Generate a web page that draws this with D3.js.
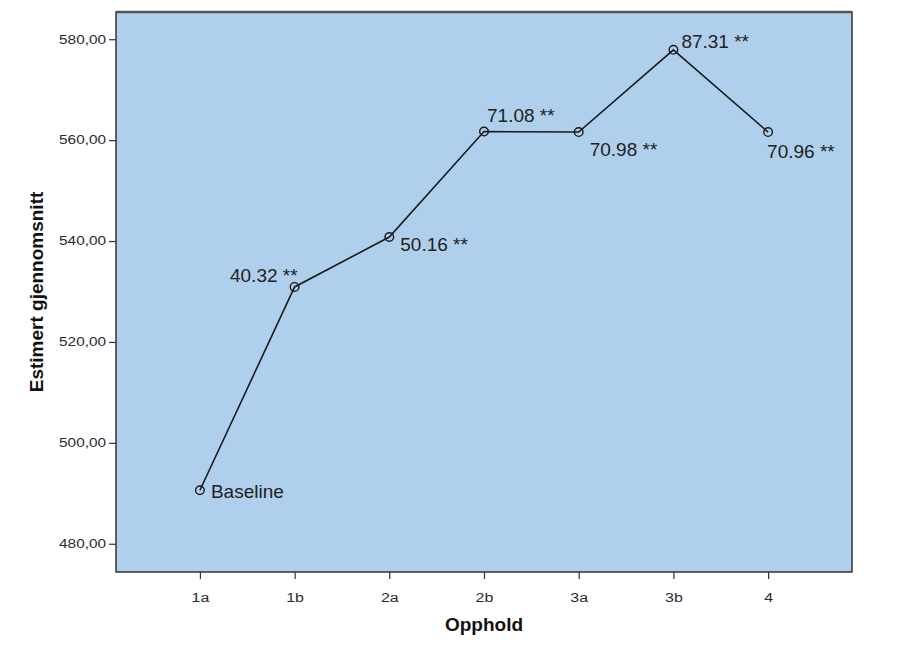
<!DOCTYPE html>
<html>
<head>
<meta charset="utf-8">
<script src="https://cdn.jsdelivr.net/npm/d3@7"></script>
<style>
  html, body { margin: 0; padding: 0; background: #ffffff; }
  svg { display: block; }
  text { font-family: "Liberation Sans", Arial, sans-serif; }
</style>
</head>
<body>
<svg id="chart" width="916" height="667"></svg>
<script>
// ---- data ----
const categories = ["1a", "1b", "2a", "2b", "3a", "3b", "4"];
const meanValues = [490.6, 530.9, 540.8, 561.7, 561.6, 577.9, 561.6];
const pointLabels = ["Baseline", "40.32 **", "50.16 **", "71.08 **", "70.98 **", "87.31 **", "70.96 **"];
const yTickValues = [480, 500, 520, 540, 560, 580];
const xAxisTitle = "Opphold";
const yAxisTitle = "Estimert gjennomsnitt";

// label placement (offsets from point, anchor)
const labelPlacement = [
  { dx: 11, dy: 8, anchor: "start" },
  { dx: 3, dy: -5, anchor: "end" },
  { dx: 11, dy: 14, anchor: "start" },
  { dx: 3, dy: -10, anchor: "start" },
  { dx: 11, dy: 24, anchor: "start" },
  { dx: 8, dy: -2, anchor: "start" },
  { dx: -1, dy: 26, anchor: "start" }
];

const svg = d3.select("#chart");
const plot = { left: 116, right: 852, top: 12, bottom: 572 };

const x = d3.scalePoint().domain(categories).range([plot.left, plot.right]).padding(0.886);
const y = d3.scaleLinear().domain([474.4, 585.4]).range([plot.bottom, plot.top]);

// background
svg.append("rect")
  .attr("x", plot.left).attr("y", plot.top)
  .attr("width", plot.right - plot.left).attr("height", plot.bottom - plot.top)
  .attr("fill", "#afcfec");

// y axis
const yAxis = svg.append("g")
  .attr("transform", `translate(${plot.left},0)`)
  .call(d3.axisLeft(y).tickValues(yTickValues).tickSize(7).tickPadding(3)
    .tickFormat(d => d3.format(".2f")(d).replace(".", ",")));
yAxis.select(".domain").remove();
yAxis.selectAll(".tick line").attr("stroke", "#333").attr("stroke-width", 1.2);
yAxis.selectAll(".tick text")
  .attr("fill", "#2a2a2a").attr("font-size", 12)
  .attr("x", -10 / 1.28)
  .attr("transform", "scale(1.28,1)");

// x axis
const xAxis = svg.append("g")
  .attr("transform", `translate(0,${plot.bottom})`)
  .call(d3.axisBottom(x).tickSize(7).tickPadding(14));
xAxis.select(".domain").remove();
xAxis.selectAll(".tick line").attr("stroke", "#333").attr("stroke-width", 1.2);
xAxis.selectAll(".tick text")
  .attr("fill", "#2a2a2a").attr("font-size", 12.5)
  .attr("transform", "scale(1.28,1)");

// frame
svg.append("rect")
  .attr("x", plot.left).attr("y", plot.top)
  .attr("width", plot.right - plot.left).attr("height", plot.bottom - plot.top)
  .attr("fill", "none").attr("stroke", "#333").attr("stroke-width", 1.5);
svg.append("line")
  .attr("x1", plot.left).attr("x2", plot.right)
  .attr("y1", plot.top).attr("y2", plot.top)
  .attr("stroke", "#555").attr("stroke-width", 2.5);

// line
const data = categories.map((c, i) => ({ c, v: meanValues[i], label: pointLabels[i], p: labelPlacement[i] }));
svg.append("path")
  .datum(data)
  .attr("fill", "none")
  .attr("stroke", "#1a1a1a")
  .attr("stroke-width", 1.6)
  .attr("d", d3.line().x(d => x(d.c)).y(d => y(d.v)));

// markers
svg.selectAll("circle.pt")
  .data(data)
  .enter().append("circle")
  .attr("class", "pt")
  .attr("cx", d => x(d.c)).attr("cy", d => y(d.v))
  .attr("r", 4.3)
  .attr("fill", "none")
  .attr("stroke", "#1a1a1a")
  .attr("stroke-width", 1.4);

// labels
svg.selectAll("text.lbl")
  .data(data)
  .enter().append("text")
  .attr("class", "lbl")
  .attr("x", d => x(d.c) + d.p.dx)
  .attr("y", d => y(d.v) + d.p.dy)
  .attr("text-anchor", d => d.p.anchor)
  .attr("font-size", 19)
  .attr("fill", "#222")
  .text(d => d.label);

// axis titles
svg.append("text")
  .attr("x", (plot.left + plot.right) / 2)
  .attr("y", 631)
  .attr("text-anchor", "middle")
  .attr("font-size", 19)
  .attr("font-weight", "bold")
  .attr("fill", "#111")
  .text(xAxisTitle);

svg.append("text")
  .attr("transform", `translate(43,${(plot.top + plot.bottom) / 2}) rotate(-90)`)
  .attr("text-anchor", "middle")
  .attr("font-size", 19)
  .attr("font-weight", "bold")
  .attr("fill", "#111")
  .text(yAxisTitle);
</script>
</body>
</html>
